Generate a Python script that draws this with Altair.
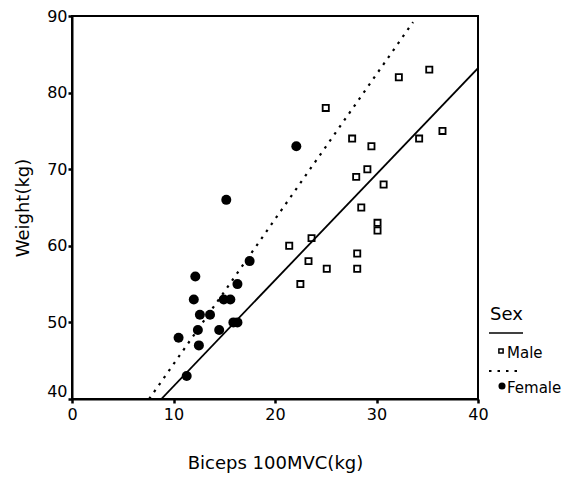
import altair as alt
import pandas as pd

male_x = [25.0, 32.2, 35.2, 27.6, 29.5, 34.2, 36.5, 29.1, 28.0, 30.7, 28.5, 30.1, 30.1, 23.6, 21.4, 28.1, 23.3, 25.1, 28.1, 22.5]
male_y = [78, 82, 83, 74, 73, 74, 75, 70, 69, 68, 65, 63, 62, 61, 60, 59, 58, 57, 57, 55]
female_x = [11.3, 10.5, 12.15, 12.0, 12.6, 13.6, 12.4, 12.5, 14.5, 14.95, 15.6, 15.9, 16.3, 16.3, 17.5, 15.2, 22.1]
female_y = [43, 48, 56, 53, 51, 51, 49, 47, 49, 53, 53, 50, 50, 55, 58, 66, 73]

male_line_x = [8.8, 40.0]
male_line_y = [40.0, 83.2]
female_line_x = [7.6, 33.6]
female_line_y = [40.0, 89.2]

x_ticks = [0, 10, 20, 30, 40]
y_ticks = [40, 50, 60, 70, 80, 90]

FONT = "DejaVu Sans"

male_df = pd.DataFrame({"x": male_x, "y": male_y})
female_df = pd.DataFrame({"x": female_x, "y": female_y})
mline_df = pd.DataFrame({"x": male_line_x, "y": male_line_y})
fline_df = pd.DataFrame({"x": female_line_x, "y": female_line_y})

xscale = alt.Scale(domain=[0, 40], nice=False, zero=False)
yscale = alt.Scale(domain=[40, 90], nice=False, zero=False)
xaxis = alt.Axis(values=x_ticks, title="Biceps 100MVC(kg)", grid=False, titlePadding=32,
                 labelPadding=3, labelFlush=False)
yaxis = alt.Axis(values=y_ticks, title="Weight(kg)", grid=False, titlePadding=14, labelPadding=1,
                 labelFlush=False,
                 labelBaseline={"condition": {"test": "datum.value === 40", "value": "bottom"},
                                "value": "middle"})

male_pts = alt.Chart(male_df).mark_point(shape="square", filled=False, color="black",
                                          size=38, strokeWidth=1.8, opacity=1).encode(
    x=alt.X("x:Q", scale=xscale, axis=xaxis),
    y=alt.Y("y:Q", scale=yscale, axis=yaxis),
)
female_pts = alt.Chart(female_df).mark_point(shape="circle", filled=True, color="black",
                                              size=100, opacity=1).encode(
    x=alt.X("x:Q", scale=xscale),
    y=alt.Y("y:Q", scale=yscale),
)
male_line = alt.Chart(mline_df).mark_line(color="black", strokeWidth=1.8, clip=True).encode(
    x=alt.X("x:Q", scale=xscale),
    y=alt.Y("y:Q", scale=yscale),
)
female_line = alt.Chart(fline_df).mark_line(color="black", strokeWidth=2.2, strokeDash=[2.5, 6], clip=True).encode(
    x=alt.X("x:Q", scale=xscale),
    y=alt.Y("y:Q", scale=yscale),
)

leg_title = alt.Chart().mark_text(text="Sex", align="left", baseline="alphabetic", font=FONT,
                                  fontSize=18, color="black").encode(x=alt.value(418), y=alt.value(304))
leg_solid = alt.Chart().mark_rule(color="black", strokeWidth=1.5).encode(
    x=alt.value(417), x2=alt.value(451), y=alt.value(317))
leg_sq = alt.Chart().mark_point(shape="square", filled=False, color="black", size=18,
                                strokeWidth=1.5, opacity=1).encode(x=alt.value(429), y=alt.value(335))
leg_male = alt.Chart().mark_text(text="Male", align="left", baseline="middle", font=FONT,
                                 fontSize=15, color="black").encode(x=alt.value(435), y=alt.value(337))
leg_dot = alt.Chart().mark_rule(color="black", strokeWidth=1.8, strokeDash=[2.5, 6]).encode(
    x=alt.value(417), x2=alt.value(451), y=alt.value(355))
leg_circ = alt.Chart().mark_point(shape="circle", filled=True, color="black", size=50,
                                  opacity=1).encode(x=alt.value(430), y=alt.value(370))
leg_female = alt.Chart().mark_text(text="Female", align="left", baseline="middle", font=FONT,
                                   fontSize=15, color="black").encode(x=alt.value(435), y=alt.value(372))

chart = alt.layer(
    male_line, female_line, male_pts, female_pts,
    leg_title, leg_solid, leg_sq, leg_male, leg_dot, leg_circ, leg_female,
).properties(
    width=406, height=383,
    autosize=alt.AutoSizeParams(type="none"),
    padding={"left": 64, "top": 8, "right": 86, "bottom": 75},
    background="white",
).configure_view(
    stroke="black", strokeWidth=2
).configure_axis(
    domainColor="black", domainWidth=2, tickColor="black", tickWidth=2.5, tickSize=4,
    labelFont=FONT, labelFontSize=16, labelColor="black",
    titleFont=FONT, titleFontSize=18, titleFontWeight="normal", titleColor="black",
)

chart.save("out.html", embed_options={"renderer": "svg", "actions": False})
